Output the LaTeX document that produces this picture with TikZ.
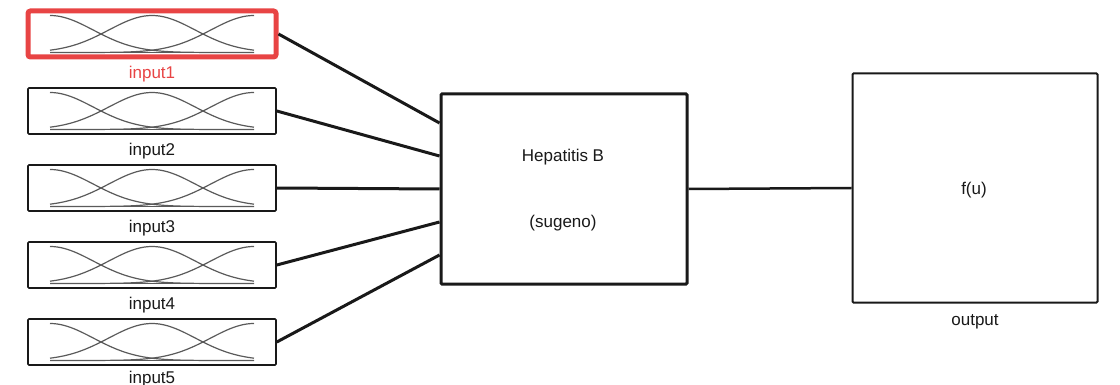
\documentclass[tikz,border=0pt]{standalone}
\usepackage{fontspec}
\setmainfont{Liberation Sans}
\usetikzlibrary{calc}
\definecolor{inred}{RGB}{232,68,68}
\definecolor{ink}{RGB}{25,25,25}
\definecolor{mfgray}{RGB}{90,90,90}
\begin{document}
\begin{tikzpicture}[x=1pt,y=-1pt,
  inbox/.style={draw=ink, line width=1.6pt, minimum width=248pt, minimum height=46pt, inner sep=0pt, rounded corners=1pt},
  hotbox/.style={inbox, draw=inred, line width=5pt, rounded corners=2.5pt},
  lbl/.style={font=\fontsize{17}{19}\selectfont, text=ink, inner sep=0pt},
  wire/.style={draw=ink, line width=3pt},
  mf/.style={draw=mfgray, line width=1.2pt},
  fisbox/.style={draw=ink, line width=3pt, minimum width=246pt, minimum height=190pt, inner sep=0pt, rounded corners=1pt},
  outbox/.style={draw=ink, line width=2pt, minimum width=245pt, minimum height=229pt, inner sep=0pt, rounded corners=1pt},
  ]
\useasboundingbox (0,0) rectangle (1120,385);
\fill[white] (0,0) rectangle (1120,385);

% FIS block and output block
\node[fisbox] (fis) at (564,189) {};
\node[lbl] (fisname) at (563,157) {Hepatitis B};
\node[lbl] (fistype) at (563,223) {(sugeno)};
\node[outbox] (out) at (975,188) {};
\node[lbl] (fu) at (974,190) {f(u)};
\node[lbl] (outlab) at (975,322) {output};
\draw[wire, line width=2.5pt] (fis.east) -- (out.west);

% Input blocks, each with three Gaussian membership functions
\foreach \i/\st/\lc/\ly in {1/hotbox/inred/40, 2/inbox/ink/40, 3/inbox/ink/40, 4/inbox/ink/40, 5/inbox/ink/37} {
  \pgfmathsetmacro\cy{34+77*(\i-1)}
  \node[\st] (in\i) at (152,\cy) {};
  \draw[wire] (in\i.east) -- ($(fis.west)+(0,{33*(\i-3)})$);
  \draw[mf] (50,\cy+18.5) -- (254,\cy+18.5);
  \draw[mf] plot[domain=0:204, samples=60] ({50+\x},{\cy+18.5-37*exp(-0.5*(\x/43.3)^2)});
  \draw[mf] plot[domain=0:204, samples=60] ({50+\x},{\cy+18.5-37*exp(-0.5*((\x-102)/43.3)^2)});
  \draw[mf] plot[domain=0:204, samples=60] ({50+\x},{\cy+18.5-37*exp(-0.5*((\x-204)/43.3)^2)});
  \node[lbl, text=\lc] (lab\i) at (152,\cy+\ly) {input\i};
}
\end{tikzpicture}
\end{document}
